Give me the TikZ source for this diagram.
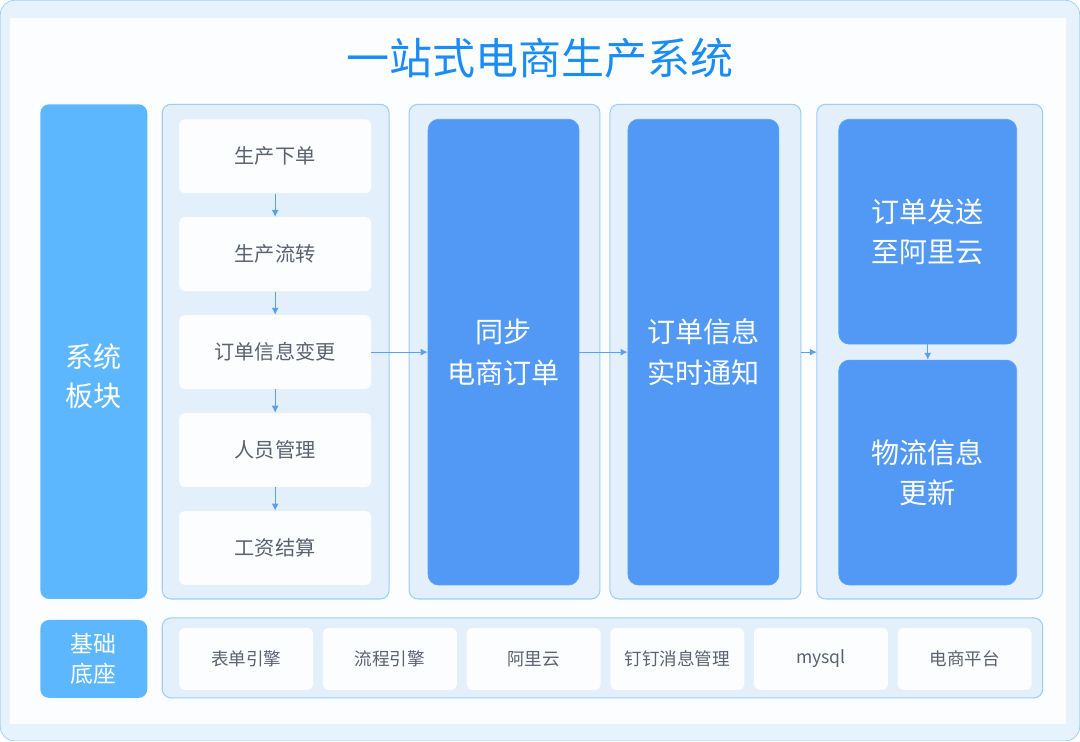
\documentclass[tikz,border=0pt]{standalone}
\usepackage{fontspec}
\setmainfont{Noto Sans CJK SC}
\usetikzlibrary{positioning,arrows.meta}
\definecolor{bgblue}{HTML}{E6F3FD}
\definecolor{edgeblue}{HTML}{9CCFF8}
\definecolor{panelblue}{HTML}{E3F0FC}
\definecolor{sideblue}{HTML}{5CB7FF}
\definecolor{boxblue}{HTML}{5199F5}
\definecolor{titleblue}{HTML}{1A8CF5}
\definecolor{itemgray}{HTML}{5A6270}
\definecolor{arrowblue}{HTML}{5AA0F0}
\definecolor{paper}{HTML}{FBFDFF}

\begin{document}
\begin{tikzpicture}[
x=0.02cm, y=-0.02cm,
panel/.style={
		draw=edgeblue,
		fill=panelblue,
		rounded corners=5pt,
		line width=0.6pt,
		},
side/.style={
		fill=sideblue,
		rounded corners=5pt,
		text=white,
		font=\fontsize{16}{22}\selectfont,
		align=center,
		},
item/.style={
		fill=paper,
		rounded corners=3pt,
		text=itemgray,
		font=\fontsize{11.5}{14}\selectfont,
		},
blue/.style={
		draw=arrowblue,
		fill=boxblue,
		rounded corners=6pt,
		text=white,
		font=\fontsize{16}{23}\selectfont,
		align=center,
		},
flow/.style={
		-{Latex[length=4pt,width=4pt]},
		draw=arrowblue,
		line width=0.6pt,
		}
]

\def \px {0.02cm}

% frame
\draw[draw=edgeblue, fill=bgblue, rounded corners=8pt] (0,0) rectangle (1080,741);
\fill[paper] (10,18) rectangle (1066,724);
\node[text=titleblue, font=\fontsize{24.5}{28}\selectfont] (title) at (540,58) {一站式电商生产系统};

% left column
\fill[sideblue, rounded corners=5pt] (40,104) rectangle (147,599);
\node[side, fill=none] (system) at (93.5,376) {系统\\板块};
\node[side, minimum width=107*\px, minimum height=78*\px, font=\fontsize{13}{17}\selectfont] (base) at (93.5,659) {基础\\底座};

% panels
\draw[panel] (162,104) rectangle (389,599);
\draw[panel] (409,104) rectangle (600,599);
\draw[panel] (610,104) rectangle (801,599);
\draw[panel] (817,104) rectangle (1043,599);
\draw[panel] (162,618) rectangle (1043,698);

% production steps
\foreach \s/\t in {1/生产下单, 2/生产流转, 3/订单信息变更, 4/人员管理, 5/工资结算}
{
  \node[item, minimum width=192*\px, minimum height=74*\px] (step\s) at (275,{156+98*(\s-1)}) {\t};
}
\foreach \s [evaluate=\s as \n using int(\s+1)] in {1,...,4}
{
  \draw[flow] (step\s) -- (step\n);
}

% order flow
\node[blue, minimum width=151*\px, minimum height=466*\px] (sync) at (503.5,352) {同步\\电商订单};
\node[blue, minimum width=151*\px, minimum height=466*\px] (notify) at (703.5,352) {订单信息\\实时通知};
\node[blue, minimum width=178*\px, minimum height=225*\px] (send) at (928,231.5) {订单发送\\至阿里云};
\node[blue, minimum width=178*\px, minimum height=225*\px] (logistics) at (928,472.5) {物流信息\\更新};
\coordinate (outA) at (801,352);
\coordinate (inB) at (817,352);

\draw[flow] (step3) -- (sync);
\draw[flow] (sync) -- (notify);
\draw[flow] (outA) -- (inB);
\draw[flow] (send) -- (logistics);

% base services
\foreach \s/\t in {1/表单引擎, 2/流程引擎, 3/阿里云, 4/钉钉消息管理, 5/mysql, 6/电商平台}
{
  \node[item, font=\fontsize{10}{12}\selectfont, minimum width=134*\px, minimum height=62*\px] (svc\s) at ({246+143.8*(\s-1)},659) {\t};
}

\end{tikzpicture}
\end{document}
